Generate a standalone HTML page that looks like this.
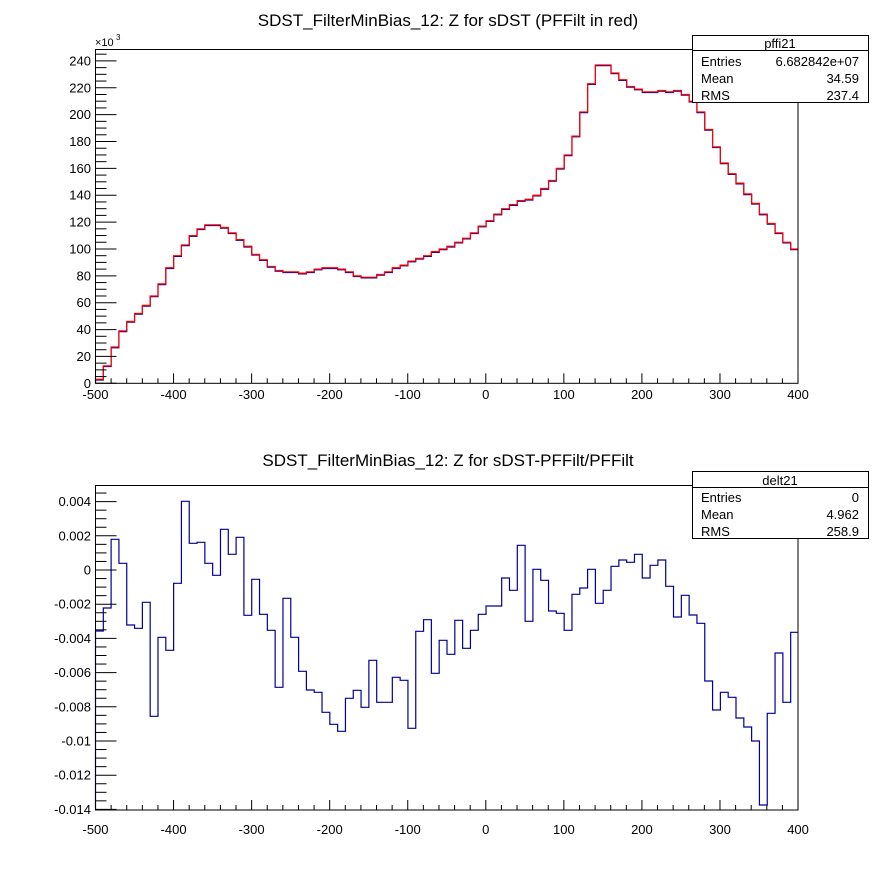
<!DOCTYPE html>
<html><head><meta charset="utf-8"><style>
html,body{margin:0;padding:0;background:#fff;}
svg{display:block;font-family:"Liberation Sans",Arial,sans-serif;}
</style></head><body>
<svg id="s" width="896" height="872" viewBox="0 0 896 872" xmlns="http://www.w3.org/2000/svg">
<rect width="896" height="872" fill="#fff"/>
<text x="448" y="26" font-size="17" text-anchor="middle">SDST_FilterMinBias_12: Z for sDST (PFFilt in red)</text>
<text x="448" y="466" font-size="17" text-anchor="middle">SDST_FilterMinBias_12: Z for sDST-PFFilt/PFFilt</text>
<g id="top"></g><g id="bot"></g>
<text x="95" y="46" font-size="11">×10</text><text x="116" y="40" font-size="8">3</text>
<g font-size="13" text-anchor="end" id="ylab"></g>
<g font-size="13" text-anchor="middle" id="xlab"></g>
<rect x="692.5" y="35.5" width="176" height="67" fill="#fff" stroke="#000"/>
<line x1="692.5" y1="50.5" x2="868.5" y2="50.5" stroke="#000"/>
<text x="780" y="48" font-size="13" text-anchor="middle">pffi21</text>
<g font-size="13"><text x="701" y="66">Entries</text><text x="859" y="66" text-anchor="end">6.682842e+07</text>
<text x="701" y="83">Mean</text><text x="859" y="83" text-anchor="end">34.59</text>
<text x="701" y="100">RMS</text><text x="859" y="100" text-anchor="end">237.4</text></g>
<rect x="692.5" y="471.5" width="176" height="67" fill="#fff" stroke="#000"/>
<line x1="692.5" y1="487.5" x2="868.5" y2="487.5" stroke="#000"/>
<text x="780" y="485" font-size="13" text-anchor="middle">delt21</text>
<g font-size="13"><text x="701" y="502">Entries</text><text x="859" y="502" text-anchor="end">0</text>
<text x="701" y="519">Mean</text><text x="859" y="519" text-anchor="end">4.962</text>
<text x="701" y="536">RMS</text><text x="859" y="536" text-anchor="end">258.9</text></g>
</svg>
<script>
var NS="http://www.w3.org/2000/svg";
function el(p,t,a){var e=document.createElementNS(NS,t);for(var k in a)e.setAttribute(k,a[k]);p.appendChild(e);return e;}
var X0=95.5,BW=7.811;
function bx(k){return X0+BW*k;}
var topv=[3,13,27,39,46,52,58,65,74,86,95,103,110,115,118,118,116,112,107,102,96,92,87,84,83,83,82,83,85,86,86,85,83,80,79,79,81,83,86,88,91,93,95,98,
100,102,105,108,112,117,121,126,130,133,136,137,140,145,151,160,170,184,202,223,237,237,231,226,221,219,217,217,218,217,218,215,210,202,189,176,164,156,149,141,134,126,119,112,105,100];
function ty(v){return 383.3-1.3433*v;}
var boty=[631,608,539.3,563.3,625,628.3,602.3,716.3,637.3,650.3,583.3,501.3,543.3,542.3,563.3,575.3,529.3,554.3,537.3,615.3,579.3,614.3,630.3,687.3,598.3,637.3,671.3,690,692.3,712.3,724.3,731.3,698.3,690.3,707.3,660.3,702.3,702.3,677.3,680.3,728.3,631.3,619.7,673.3,640.3,654.3,
620.3,648.3,630.3,614.3,606,606,578,590.3,545.3,621.3,569.3,580.3,611,613.3,630.3,594.3,588,569.3,603.3,590.3,566.3,560,562.3,554.3,578,565.3,560,586.3,617,595.3,615,623.3,681,710,692.3,697.3,718,727,741,805,713.3,653,702.3,632.3];
function hpath(ys,base){var d="M"+bx(0)+","+base;for(var i=0;i<ys.length;i++){d+=" L"+bx(i).toFixed(2)+","+ys[i].toFixed(2)+" L"+bx(i+1).toFixed(2)+","+ys[i].toFixed(2);}return d;}
var T=document.getElementById("top"),B=document.getElementById("bot");
var yl=document.getElementById("ylab"),xl=document.getElementById("xlab");
el(T,"path",{d:hpath(topv.map(function(v){return ty(v)+0.7;}),383.3),fill:"none",stroke:"#000099","stroke-width":1.2});
el(T,"path",{d:hpath(topv.map(ty),383.3),fill:"none",stroke:"#ff0000","stroke-width":1.2});
el(T,"rect",{x:95.5,y:49.5,width:702.5,height:333.8,fill:"none",stroke:"#000","stroke-width":1});
for(var v=0;v<=250;v+=5){var y=ty(v);if(y<49.5)break;var maj=v%20==0;el(T,"line",{x1:95.5,x2:95.5+(maj?21:11),y1:y,y2:y,stroke:"#000"});if(maj){var t=el(yl,"text",{x:91,y:y+4.5});t.textContent=v;}}
function xt(G,yb,lab){for(var u=-500;u<=400;u+=20){var x=X0+(u+500)*0.7806;var maj=u%100==0;el(G,"line",{x1:x,x2:x,y1:yb,y2:yb-(maj?10:5),stroke:"#000"});if(maj){var t=el(xl,"text",{x:x,y:lab});t.textContent=u;}}}
xt(T,383.3,399);
el(B,"path",{d:hpath(boty,810),fill:"none",stroke:"#00009a","stroke-width":1.2});
el(B,"rect",{x:95.5,y:485.5,width:702.5,height:324.5,fill:"none",stroke:"#000","stroke-width":1});
function by(v){return 570-17.1*v;}
for(var i=-28;i<=9;i++){var v=i*0.5;var y=by(v);if(y>810||y<485.5)continue;var maj=(i%4==0);el(B,"line",{x1:95.5,x2:95.5+(maj?21:11),y1:y,y2:y,stroke:"#000"});if(maj){var t=el(yl,"text",{x:91,y:y+4.5});var val=v/1000;t.textContent=(v==0?"0":val.toFixed(3).replace(/0+$/,""));}}
xt(B,810,834);
</script>
</body></html>
